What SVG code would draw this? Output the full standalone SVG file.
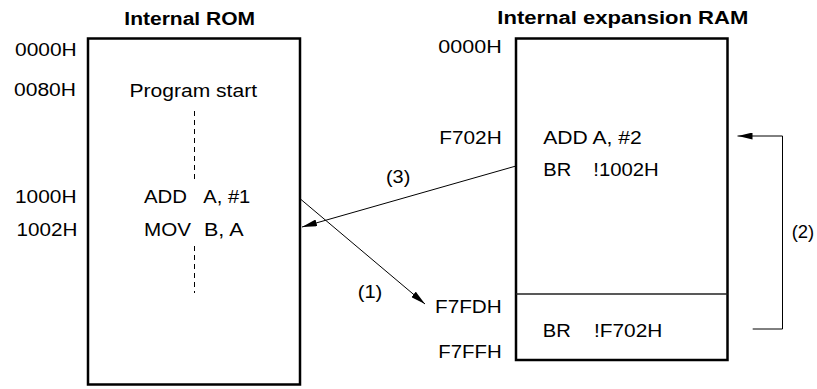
<svg xmlns="http://www.w3.org/2000/svg" width="817" height="389" viewBox="0 0 817 389">
<style>
text{font-family:"Liberation Sans",Arial,sans-serif;font-size:17.5px;fill:#000}
.b{font-weight:bold}
.box{fill:#fff;stroke:#000;stroke-width:2.5}
.ln{fill:none;stroke:#000;stroke-width:1}
.dash{fill:none;stroke:#000;stroke-width:1;stroke-dasharray:5 4}
</style>
<defs>
<marker id="ah" markerWidth="15" markerHeight="7" refX="15" refY="3.5" orient="auto" markerUnits="userSpaceOnUse">
<path d="M0,0 L15,3.5 L0,7 Z" fill="#000"/>
</marker>
</defs>
<g id="rom">
<text class="b" x="124.3" y="25" textLength="130.7" lengthAdjust="spacingAndGlyphs">Internal ROM</text>
<rect class="box" x="88" y="38.5" width="212" height="346"/>
<text x="15" y="56" textLength="61.7" lengthAdjust="spacingAndGlyphs">0000H</text>
<text x="14" y="96" textLength="62" lengthAdjust="spacingAndGlyphs">0080H</text>
<text x="15" y="203.3" textLength="61.5" lengthAdjust="spacingAndGlyphs">1000H</text>
<text x="16.5" y="236.3" textLength="60.8" lengthAdjust="spacingAndGlyphs">1002H</text>
<text x="129.5" y="96.5" textLength="127.5" lengthAdjust="spacingAndGlyphs">Program start</text>
<line class="dash" x1="194.5" y1="111" x2="194.5" y2="180"/>
<text x="144" y="203.3" textLength="43" lengthAdjust="spacingAndGlyphs">ADD</text>
<text x="203.3" y="203.3" textLength="47" lengthAdjust="spacingAndGlyphs">A, #1</text>
<text x="144" y="236.3" textLength="47" lengthAdjust="spacingAndGlyphs">MOV</text>
<text x="204" y="236.3" textLength="39.5" lengthAdjust="spacingAndGlyphs">B, A</text>
<line class="dash" x1="194.5" y1="246" x2="194.5" y2="293"/>
</g>
<g id="ram">
<text class="b" x="497.3" y="23.5" textLength="251" lengthAdjust="spacingAndGlyphs">Internal expansion RAM</text>
<rect class="box" x="516" y="38.5" width="211.5" height="321.5"/>
<line x1="516" y1="294" x2="727.5" y2="294" stroke="#222" stroke-width="1.3"/>
<text x="438.3" y="53.3" textLength="63.4" lengthAdjust="spacingAndGlyphs">0000H</text>
<text x="439.3" y="144" textLength="62.4" lengthAdjust="spacingAndGlyphs">F702H</text>
<text x="435" y="312.7" textLength="66.7" lengthAdjust="spacingAndGlyphs">F7FDH</text>
<text x="438.3" y="358.3" textLength="63.4" lengthAdjust="spacingAndGlyphs">F7FFH</text>
<text x="543.3" y="144" textLength="98.4" lengthAdjust="spacingAndGlyphs">ADD A, #2</text>
<text x="543.3" y="175.7" textLength="28" lengthAdjust="spacingAndGlyphs">BR</text>
<text x="593.3" y="175.7" textLength="65.5" lengthAdjust="spacingAndGlyphs">!1002H</text>
<text x="542.7" y="336.7" textLength="28" lengthAdjust="spacingAndGlyphs">BR</text>
<text x="594" y="336.7" textLength="68.3" lengthAdjust="spacingAndGlyphs">!F702H</text>
</g>
<g id="connectors">
<line class="ln" x1="301" y1="199.5" x2="425" y2="304" marker-end="url(#ah)"/>
<line class="ln" x1="516" y1="166" x2="302" y2="227" marker-end="url(#ah)"/>
<path class="ln" d="M752.7,329 H782.5 V136 H737.5" marker-end="url(#ah)"/>
<text x="357.7" y="298.3" textLength="24.6" lengthAdjust="spacingAndGlyphs">(1)</text>
<text x="386" y="183.3" textLength="24.3" lengthAdjust="spacingAndGlyphs">(3)</text>
<text x="791.7" y="237.5" textLength="22.5" lengthAdjust="spacingAndGlyphs">(2)</text>
</g>
</svg>
